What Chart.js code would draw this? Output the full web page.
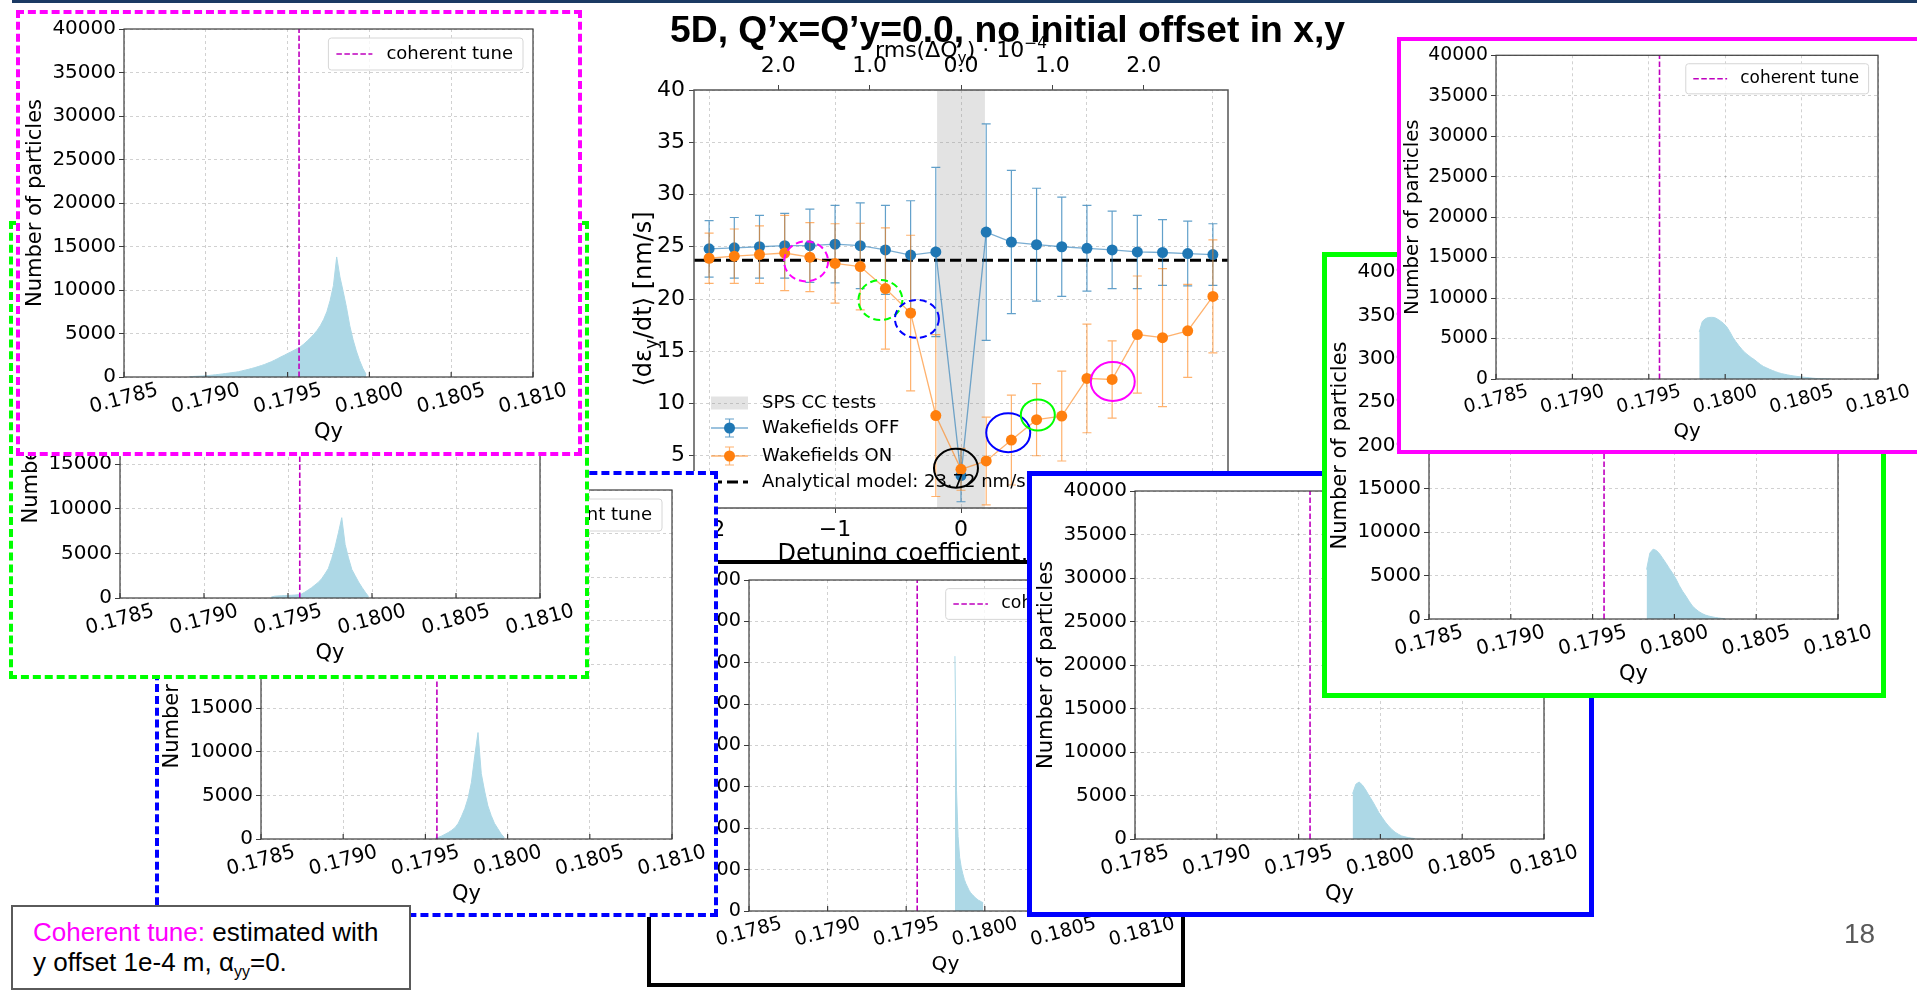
<!DOCTYPE html>
<html lang="en">
<head>
<meta charset="utf-8">
<script src="https://cdn.jsdelivr.net/npm/chart.js@4.4.1/dist/chart.umd.min.js"></script>
<style>
    html, body { margin: 0; padding: 0; }
    body { width: 1917px; height: 990px; position: relative; overflow: hidden; background: #fff; }
    #main { position: absolute; left: 0; top: 0; }
    .panel { position: absolute; box-sizing: border-box; background: #fff; }
    .panel canvas { position: absolute; left: 0; top: 0; }
    #topbar { position: absolute; left: 12px; top: 0; width: 1905px; height: 3px; background: #1b3a63; }
    #title { position: absolute; left: 670px; top: 9px; font: bold 37px 'Liberation Sans', Arial, sans-serif; white-space: nowrap; transform-origin: 0 0; color: #000; }
    #note { position: absolute; left: 11px; top: 905px; width: 400px; height: 85px; box-sizing: border-box; border: 2px solid #5a5a5a; padding: 10px 0 0 20px; font: 26px/30px 'Liberation Sans', Arial, sans-serif; color: #000; background: #fff; }
    #note .m { color: #ff00ff; }
    #note sub { font-size: 16px; line-height: 0; vertical-align: -6px; }
    #page { position: absolute; left: 1844px; top: 918px; font: 28px 'Liberation Sans', Arial, sans-serif; color: #595959; }
</style>
</head>
<body>
<canvas id="main" width="1917" height="990"></canvas>
<div id="panels"></div>
<div id="note"><span class="m">Coherent tune:</span> estimated with<br>y offset 1e-4 m, α<sub>yy</sub>=0.</div>
<div id="page">18</div>
<div id="title">5D, Q’x=Q’y=0.0, no initial offset in x,y</div>
<div id="topbar"></div>

<script>
    Chart.defaults.font.family = "'DejaVu Sans', sans-serif";
    Chart.defaults.color = '#000';
    const FAM = "'DejaVu Sans', sans-serif";

    // ---- main scan: growth rate vs detuning ----
    const detuning = [-2.0, -1.8, -1.6, -1.4, -1.2, -1.0, -0.8, -0.6, -0.4, -0.2, 0.0, 0.2, 0.4, 0.6, 0.8, 1.0, 1.2, 1.4, 1.6, 1.8, 2.0];
    const wakeOff = [24.8, 24.9, 25.0, 25.1, 25.1, 25.25, 25.1, 24.7, 24.2, 24.5, 3.1, 26.4, 25.45, 25.2, 25.0, 24.85, 24.7, 24.5, 24.45, 24.35, 24.25];
    const wakeOffErr = [2.7, 2.9, 3.0, 3.1, 3.5, 3.7, 4.1, 4.25, 5.2, 8.1, 2.5, 10.35, 6.85, 5.4, 4.75, 4.1, 3.7, 3.5, 3.15, 3.1, 2.95];
    const wakeOn = [23.9, 24.1, 24.25, 24.4, 24.0, 23.4, 23.1, 21.0, 18.65, 8.85, 3.7, 4.5, 6.5, 8.45, 8.8, 12.4, 12.3, 16.6, 16.3, 16.95, 20.25];
    const wakeOnErr = [2.4, 2.6, 2.75, 3.6, 3.3, 3.8, 4.15, 5.8, 7.45, 7.75, 2.0, 4.2, 4.3, 3.45, 4.3, 5.2, 3.7, 5.6, 6.6, 4.45, 5.4];
    const analytical = 23.72;
    const ccBand = [-0.19, 0.19];

    const detTicks = [-2, -1, 0, 1, 2];
    const rmsTicks = [-2, -1, 0, 1, 2];
    const rmsTickLabels = ['2.0', '1.0', '0.0', '1.0', '2.0'];
    const rateTicks = [0, 5, 10, 15, 20, 25, 30, 35, 40];

    // circled points (which histogram belongs to which point)
    const markX = [-1.23, -0.64, -0.35, -0.04, 0.375, 0.61, 1.205];
    const markY = [23.6, 19.9, 18.1, 3.8, 7.2, 8.9, 12.1];

    // ---- tune histograms ----
    const cohTune = 0.17957;
    const qyTicks = [0.1785, 0.1790, 0.1795, 0.1800, 0.1805, 0.1810];
    const countTicks = [0, 5000, 10000, 15000, 20000, 25000, 30000, 35000, 40000];

    const qyStartA = 0.17890, binA = 0.00002;
    const countsA = [40, 60, 80, 100, 120, 150, 180, 220, 260, 300, 350, 400, 450, 500, 550, 610, 700, 790, 880, 980,
        1080, 1200, 1320, 1450, 1600, 1750, 1930, 2120, 2320, 2500, 2700, 2880, 3080, 3280, 3500, 3800, 4150, 4500, 4900, 5350,
        5900, 6600, 7500, 8800, 10500, 13800, 11500, 9800, 8000, 5900, 4300, 3000, 1900, 1000, 300];
    const qyStartB = 0.17940, binB = 0.00002;
    const countsB = [100, 200, 230, 250, 270, 290, 310, 330, 360, 450, 650, 900, 1150, 1450, 1750, 2150, 2700, 3300, 4400, 5700,
        7300, 9000, 6000, 4500, 3200, 2500, 1800, 1200, 650, 150];
    const qyStartC = 0.17956, binC = 0.00002;
    const countsC = [100, 200, 350, 550, 750, 1000, 1300, 1800, 2600, 3500, 4700, 6500, 9500, 12200, 7500, 5500, 3800, 2700, 1800, 1200, 600, 150];
    const qyStartD = 0.17981, binD = 0.00001;
    const countsD = [30800, 14600, 9000, 6500, 5300, 4500, 3800, 3300, 2900, 2500, 2200, 2000, 1800, 1600, 1450, 1300, 1200, 1100, 1000];
    const qyStartE = 0.17983, binE = 0.00002;
    const countsE = [5200, 6300, 6550, 6200, 5650, 5000, 4400, 3750, 3050, 2500, 1950, 1500, 1100, 780, 550, 350, 250, 160, 100, 50];
    const qyStartF = 0.17983, binF = 0.00002;
    const countsF = [5700, 7600, 8050, 7900, 7500, 6950, 6400, 5800, 5250, 4600, 3850, 3200, 2650, 2050, 1500, 1150, 850, 620, 450, 340,
        250, 180, 120, 70, 40];
    const qyStartG = 0.17983, binG = 0.00002;
    const countsG = [5800, 7100, 7450, 7600, 7620, 7600, 7400, 7150, 6850, 6450, 5850, 5150, 4600, 4100, 3650, 3250, 2950, 2650, 2400, 2100,
        1800, 1550, 1380, 1200, 1050, 900, 770, 660, 580, 500, 430, 370, 320, 270, 230, 190, 150, 110, 75, 45, 30, 20, 12, 6];

    const gridColor = 'rgba(0,0,0,0.18)';

    function richText(ctx, parts, x, y, size, align) {
        const widths = parts.map(([t, k]) => {
            ctx.font = (k ? size * 0.7 : size) + 'px ' + FAM;
            return ctx.measureText(t).width;
        });
        const total = widths.reduce((a, b) => a + b, 0);
        let cx = align === 'center' ? x - total / 2 : x;
        ctx.textAlign = 'left';
        ctx.textBaseline = 'alphabetic';
        parts.forEach(([t, k], i) => {
            ctx.font = (k ? size * 0.7 : size) + 'px ' + FAM;
            const dy = k === 'sub' ? size * 0.25 : (k === 'sup' ? -size * 0.42 : 0);
            ctx.fillText(t, cx, y + dy);
            cx += widths[i];
        });
    }

    // ---------- main chart ----------
    const mainDecor = {
        id: 'mainDecor',
        beforeDatasetsDraw(chart) {
            const {ctx, chartArea: a, scales: {x, y}} = chart;
            ctx.save();
            const x0 = x.getPixelForValue(ccBand[0]), x1 = x.getPixelForValue(ccBand[1]);
            ctx.fillStyle = 'rgba(128,128,128,0.22)';
            ctx.fillRect(x0, a.top, x1 - x0, a.bottom - a.top);
            const ya = y.getPixelForValue(analytical);
            ctx.strokeStyle = '#000';
            ctx.lineWidth = 3;
            ctx.setLineDash([11, 5]);
            ctx.beginPath();
            ctx.moveTo(a.left, ya);
            ctx.lineTo(a.right, ya);
            ctx.stroke();
            ctx.restore();
        },
        beforeDatasetDraw(chart, args) {
            const ds = chart.data.datasets[args.index];
            if (!ds.errors) return;
            const {ctx, chartArea: a, scales: {y}} = chart;
            ctx.save();
            ctx.beginPath();
            ctx.rect(a.left, a.top, a.right - a.left, a.bottom - a.top);
            ctx.clip();
            ctx.strokeStyle = ds.errColor;
            ctx.lineWidth = 1.2;
            args.meta.data.forEach((pt, i) => {
                const v = ds.data[i].y, e = ds.errors[i];
                const y1 = y.getPixelForValue(v + e), y2 = y.getPixelForValue(v - e);
                ctx.beginPath();
                ctx.moveTo(pt.x, y1); ctx.lineTo(pt.x, y2);
                ctx.moveTo(pt.x - 4.5, y1); ctx.lineTo(pt.x + 4.5, y1);
                ctx.moveTo(pt.x - 4.5, y2); ctx.lineTo(pt.x + 4.5, y2);
                ctx.stroke();
            });
            ctx.restore();
        },
        afterDatasetsDraw(chart) {
            const {ctx, chartArea: a, scales: {x, y}} = chart;
            const colors = ['#ff00ff', '#00ff00', '#0000ff', '#000000', '#0000ff', '#00ff00', '#ff00ff'];
            const dashed = [true, true, true, false, false, false, false];
            const rx = [22, 22, 22, 22, 22, 17, 22], ry = [20, 20, 19, 19.5, 19.5, 15.5, 19.5];
            ctx.save();
            ctx.lineWidth = 2;
            markX.forEach((mx, i) => {
                ctx.strokeStyle = colors[i];
                ctx.setLineDash(dashed[i] ? [7, 4] : []);
                ctx.beginPath();
                ctx.ellipse(x.getPixelForValue(mx), y.getPixelForValue(markY[i]), rx[i], ry[i], 0, 0, Math.PI * 2);
                ctx.stroke();
            });
            ctx.setLineDash([]);

            // legend, lower left
            const lx = a.left + 17, hw = 37, tx = a.left + 68;
            const rows = [a.bottom - 105, a.bottom - 80, a.bottom - 52, a.bottom - 26];
            ctx.fillStyle = 'rgba(128,128,128,0.22)';
            ctx.fillRect(lx, rows[0] - 6.5, hw, 13);
            [chart.data.datasets[1], chart.data.datasets[0]].forEach((ds, k) => {
                const ry0 = rows[1 + k], cx = lx + hw / 2;
                ctx.strokeStyle = ds.borderColor;
                ctx.lineWidth = 1.3;
                ctx.beginPath(); ctx.moveTo(lx, ry0); ctx.lineTo(lx + hw, ry0); ctx.stroke();
                ctx.strokeStyle = ds.errColor;
                ctx.lineWidth = 1.2;
                ctx.beginPath();
                ctx.moveTo(cx, ry0 - 9); ctx.lineTo(cx, ry0 + 9);
                ctx.moveTo(cx - 4.5, ry0 - 9); ctx.lineTo(cx + 4.5, ry0 - 9);
                ctx.moveTo(cx - 4.5, ry0 + 9); ctx.lineTo(cx + 4.5, ry0 + 9);
                ctx.stroke();
                ctx.fillStyle = ds.pointBackgroundColor;
                ctx.beginPath(); ctx.arc(cx, ry0, 5.5, 0, Math.PI * 2); ctx.fill();
            });
            ctx.strokeStyle = '#000';
            ctx.lineWidth = 3;
            ctx.setLineDash([11, 5]);
            ctx.beginPath(); ctx.moveTo(lx, rows[3]); ctx.lineTo(lx + hw, rows[3]); ctx.stroke();
            ctx.setLineDash([]);
            ctx.fillStyle = '#000';
            ctx.font = '18px ' + FAM;
            ctx.textAlign = 'left';
            ctx.textBaseline = 'middle';
            const labels = ['SPS CC tests', chart.data.datasets[1].label, chart.data.datasets[0].label, 'Analytical model: ' + analytical + ' nm/s'];
            labels.forEach((t, i) => ctx.fillText(t, tx, rows[i]));
            ctx.restore();
        },
        afterDraw(chart) {
            const {ctx, chartArea: a} = chart;
            ctx.save();
            ctx.strokeStyle = '#555';
            ctx.lineWidth = 1.5;
            ctx.strokeRect(a.left, a.top, a.right - a.left, a.bottom - a.top);
            ctx.fillStyle = '#000';
            richText(ctx, [['rms(ΔQ', ''], ['y', 'sub'], [') · 10', ''], ['−4', 'sup']], (a.left + a.right) / 2, 57, 22, 'center');
            richText(ctx, [['Detuning coefficient, α', ''], ['yy', 'sub'], [' [1/m]', '']], (a.left + a.right) / 2, 561, 24, 'center');
            ctx.translate(a.left - 51, (a.top + a.bottom) / 2);
            ctx.rotate(-Math.PI / 2);
            richText(ctx, [['⟨dε', ''], ['y', 'sub'], ['/dt⟩ [nm/s]', '']], 0, 8, 24, 'center');
            ctx.restore();
        }
    };

    new Chart(document.getElementById('main'), {
        type: 'line',
        data: {
            datasets: [
                {
                    label: 'Wakefields ON',
                    data: detuning.map((d, i) => ({x: d, y: wakeOn[i]})),
                    errors: wakeOnErr, errColor: 'rgba(255,127,14,0.6)',
                    borderColor: 'rgba(255,127,14,0.6)', borderWidth: 1.3,
                    pointRadius: 5.5, pointBackgroundColor: '#ff7f0e', pointBorderColor: '#ff7f0e', pointBorderWidth: 0
                },
                {
                    label: 'Wakefields OFF',
                    data: detuning.map((d, i) => ({x: d, y: wakeOff[i]})),
                    errors: wakeOffErr, errColor: 'rgba(31,119,180,0.7)',
                    borderColor: 'rgba(31,119,180,0.6)', borderWidth: 1.3,
                    pointRadius: 5.5, pointBackgroundColor: '#1f77b4', pointBorderColor: '#1f77b4', pointBorderWidth: 0
                }
            ]
        },
        options: {
            responsive: false, animation: false, devicePixelRatio: 1,
            layout: {padding: {left: 600, top: 0, right: 1917 - 1228, bottom: 400}},
            plugins: {legend: {display: false}, tooltip: {enabled: false}},
            scales: {
                x: {
                    type: 'linear', position: 'bottom', min: -2.12, max: 2.12,
                    afterBuildTicks: s => { s.ticks = detTicks.map(v => ({value: v})); },
                    afterFit: s => { s.height = 990 - 400 - 508; },
                    ticks: {font: {size: 22}, padding: 4, autoSkip: false, maxRotation: 0,
                        callback: v => (v < 0 ? '\u2212' + Math.abs(v) : String(v))},
                    grid: {color: gridColor, tickColor: '#444', tickLength: 5, borderDash: [3, 3]},
                    border: {display: false, dash: [3, 3]}
                },
                x2: {
                    type: 'linear', axis: 'x', position: 'top', min: -2.922, max: 2.922,
                    afterBuildTicks: s => { s.ticks = rmsTicks.map(v => ({value: v})); },
                    afterFit: s => { s.height = 90; },
                    ticks: {font: {size: 22}, padding: 6, autoSkip: false, maxRotation: 0,
                        callback: (v, i) => rmsTickLabels[i]},
                    grid: {drawOnChartArea: false, tickColor: '#444', tickLength: 5},
                    border: {display: false}
                },
                y: {
                    type: 'linear', min: 0, max: 40,
                    afterBuildTicks: s => { s.ticks = rateTicks.map(v => ({value: v})); },
                    afterFit: s => { s.width = 694 - 600; },
                    ticks: {font: {size: 22}, padding: 4, autoSkip: false, callback: v => String(v)},
                    grid: {color: gridColor, tickColor: '#444', tickLength: 5, borderDash: [3, 3]},
                    border: {display: false, dash: [3, 3]}
                }
            }
        },
        plugins: [mainDecor]
    });

    // ---------- histogram panels ----------
    const histDecor = {
        id: 'histDecor',
        afterDraw(chart, args, o) {
            const {ctx, chartArea: a, scales: {x}} = chart;
            const s = o.s;
            ctx.save();
            ctx.strokeStyle = '#3c3c3c';
            ctx.lineWidth = 1.2;
            ctx.strokeRect(a.left, a.top, a.right - a.left, a.bottom - a.top);
            ctx.fillStyle = '#000';
            ctx.font = (20 * s) + 'px ' + FAM;
            ctx.textAlign = 'center';
            ctx.textBaseline = 'middle';
            x.ticks.forEach(t => {
                const px = x.getPixelForValue(t.value);
                ctx.beginPath(); ctx.moveTo(px, a.bottom); ctx.lineTo(px, a.bottom - 5); ctx.stroke();
                ctx.save();
                ctx.translate(px, a.bottom + 22 * s);
                ctx.rotate(-15 * Math.PI / 180);
                ctx.fillText(t.value.toFixed(4), 0, 0);
                ctx.restore();
            });
            ctx.font = (21 * s) + 'px ' + FAM;
            ctx.fillText('Qy', (a.left + a.right) / 2, a.bottom + 56 * s);
            ctx.save();
            ctx.translate(a.left - 88 * s, (a.top + a.bottom) / 2);
            ctx.rotate(-Math.PI / 2);
            ctx.fillText('Number of particles', 0, 0);
            ctx.restore();

            const coh = chart.data.datasets[0];
            ctx.font = (18 * s) + 'px ' + FAM;
            const tw = ctx.measureText(coh.label).width;
            const w = tw + 68 * s, h = 32 * s;
            const bx = a.right - 10 * s - w, by = a.top + 9 * s;
            ctx.fillStyle = 'rgba(255,255,255,0.8)';
            ctx.strokeStyle = '#d6d6d6';
            ctx.lineWidth = 1;
            ctx.beginPath();
            if (ctx.roundRect) ctx.roundRect(bx, by, w, h, 3 * s); else ctx.rect(bx, by, w, h);
            ctx.fill();
            ctx.stroke();
            ctx.strokeStyle = coh.borderColor;
            ctx.lineWidth = coh.borderWidth;
            ctx.setLineDash(coh.borderDash);
            ctx.beginPath(); ctx.moveTo(bx + 8 * s, by + h / 2); ctx.lineTo(bx + 44 * s, by + h / 2); ctx.stroke();
            ctx.setLineDash([]);
            ctx.fillStyle = '#000';
            ctx.textAlign = 'left';
            ctx.fillText(coh.label, bx + 58 * s, by + h / 2);
            ctx.restore();
        }
    };

    // stacking order: later entries sit on top
    const panels = [
        {box: [647, 560, 1185, 987], bw: 4, border: '4px solid #000', plot: [749, 580, 1142, 911], s: 0.96, start: qyStartD, step: binD, counts: countsD},
        {box: [155, 471, 718, 917], bw: 4, border: '4px dashed #0000ff', plot: [261, 489, 672, 839], s: 1, start: qyStartC, step: binC, counts: countsC},
        {box: [9, 221, 589, 679], bw: 4, border: '4px dashed #00ff00', plot: [120, 241, 540, 598], s: 1, start: qyStartB, step: binB, counts: countsB},
        {box: [16, 10, 582, 456], bw: 4, border: '4px dashed #ff00ff', plot: [124, 28, 533, 377], s: 1, start: qyStartA, step: binA, counts: countsA},
        {box: [1027, 471, 1594, 917], bw: 5, border: '5px solid #0000ff', plot: [1135, 490, 1544, 839], s: 1, start: qyStartE, step: binE, counts: countsE},
        {box: [1322, 252, 1886, 698], bw: 5, border: '5px solid #00ff00', plot: [1429, 272, 1838, 619], s: 1, start: qyStartF, step: binF, counts: countsF},
        {box: [1397, 37, 1925, 454], bw: 4, border: '4px solid #ff00ff', plot: [1496, 55, 1878, 379], s: 0.94, start: qyStartG, step: binG, counts: countsG}
    ];

    const holder = document.getElementById('panels');
    panels.forEach(p => {
        const div = document.createElement('div');
        div.className = 'panel';
        div.style.left = p.box[0] + 'px';
        div.style.top = p.box[1] + 'px';
        div.style.width = (p.box[2] - p.box[0]) + 'px';
        div.style.height = (p.box[3] - p.box[1]) + 'px';
        div.style.border = p.border;
        holder.appendChild(div);

        const W = p.box[2] - p.box[0] - 2 * p.bw, H = p.box[3] - p.box[1] - 2 * p.bw;
        const ox = p.box[0] + p.bw, oy = p.box[1] + p.bw;
        const area = [p.plot[0] - ox, p.plot[1] - oy, p.plot[2] - ox, p.plot[3] - oy];
        const cv = document.createElement('canvas');
        cv.width = W; cv.height = H;
        cv.style.width = W + 'px'; cv.style.height = H + 'px';
        div.appendChild(cv);

        const pts = p.counts.map((c, i) => ({x: +(p.start + i * p.step).toFixed(6), y: c}));
        const yMax = countTicks[countTicks.length - 1];
        new Chart(cv, {
            type: 'line',
            data: {
                datasets: [
                    {label: 'coherent tune', data: [{x: cohTune, y: 0}, {x: cohTune, y: yMax}],
                        borderColor: '#bf00bf', borderWidth: 1.6, borderDash: [5.5, 2.5], pointRadius: 0, fill: false},
                    {label: 'Qy', data: pts, fill: 'origin', backgroundColor: '#add8e6',
                        borderColor: '#add8e6', borderWidth: 1, pointRadius: 0}
                ]
            },
            options: {
                responsive: false, animation: false, devicePixelRatio: 1,
                layout: {padding: {left: 0, top: area[1], right: W - area[2], bottom: 0}},
                plugins: {legend: {display: false}, tooltip: {enabled: false}, histDecor: {s: p.s}},
                scales: {
                    x: {
                        type: 'linear', min: qyTicks[0], max: qyTicks[qyTicks.length - 1],
                        afterBuildTicks: s => { s.ticks = qyTicks.map(v => ({value: v})); },
                        afterFit: s => { s.height = H - area[3]; },
                        ticks: {display: false, autoSkip: false},
                        grid: {color: gridColor, drawTicks: false, borderDash: [3, 3]},
                        border: {display: false, dash: [3, 3]}
                    },
                    y: {
                        type: 'linear', min: 0, max: yMax,
                        afterBuildTicks: s => { s.ticks = countTicks.map(v => ({value: v})); },
                        afterFit: s => { s.width = area[0]; },
                        ticks: {autoSkip: false, padding: 3, font: {size: 20 * p.s}, callback: v => String(v)},
                        grid: {color: gridColor, tickColor: '#3c3c3c', tickLength: 5, borderDash: [3, 3]},
                        border: {display: false, dash: [3, 3]}
                    }
                }
            },
            plugins: [histDecor]
        });
    });

    // title fitted to its width on the slide
    const title = document.getElementById('title');
    const tw = title.getBoundingClientRect().width;
    title.style.transform = 'scaleX(' + (675 / tw) + ')';
</script>
</body>
</html>
